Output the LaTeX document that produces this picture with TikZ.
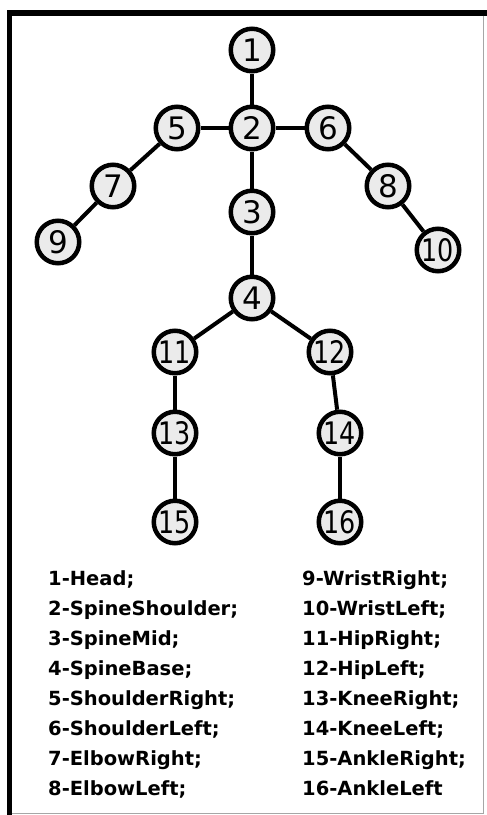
\documentclass[tikz,border=0pt]{standalone}
\usepackage{fontspec}
\newfontfamily\numfont{DejaVu Sans}
\newfontfamily\legfont{DejaVu Sans}
\begin{document}
\begin{tikzpicture}[x=1pt,y=-1pt,
  joint/.style={circle,draw=black,line width=4.5pt,fill=black!8,minimum size=42.5pt,inner sep=0pt,
    font=\numfont\fontsize{31}{31}\selectfont},
  bone/.style={draw=black,line width=4pt},
  legend/.style={anchor=base west,inner sep=0pt,font=\legfont\bfseries\fontsize{19.5}{19.5}\selectfont}]
\useasboundingbox[fill=white] (0,0) rectangle (487,815);
% frame
\fill[black] (7,10) rectangle (12,815);
\fill[black] (7,10) rectangle (487,15.5);
\draw[black!35,line width=1pt] (483,15.5) -- (483,813) -- (12,813);
% joints
\node[joint] (n1) at (252,50) {1};
\node[joint] (n2) at (252,128) {2};
\node[joint] (n3) at (252,212) {3};
\node[joint] (n4) at (252,298) {4};
\node[joint] (n5) at (177,128) {5};
\node[joint] (n6) at (328,128) {6};
\node[joint] (n7) at (113,186) {7};
\node[joint] (n8) at (388,186) {8};
\node[joint] (n9) at (58,242) {9};
\node[joint] (n10) at (438,250) {\scalebox{0.82}[1]{10}};
\node[joint] (n11) at (175,352) {\scalebox{0.82}[1]{11}};
\node[joint] (n12) at (330,352) {\scalebox{0.82}[1]{12}};
\node[joint] (n13) at (175,433) {\scalebox{0.82}[1]{13}};
\node[joint] (n14) at (340,433) {\scalebox{0.82}[1]{14}};
\node[joint] (n15) at (175,522) {\scalebox{0.82}[1]{15}};
\node[joint] (n16) at (340,522) {\scalebox{0.82}[1]{16}};
% bones
\foreach \a/\b in {n1/n2,n2/n5,n2/n6,n5/n7,n7/n9,n6/n8,n8/n10,n2/n3,n3/n4,n4/n11,n4/n12,n11/n13,n13/n15,n12/n14,n14/n16}
  \draw[bone] (\a) -- (\b);
% legend
\node[legend] (l1) at (48,585) {1-Head;};
\node[legend] (l2) at (48,615) {2-SpineShoulder;};
\node[legend] (l3) at (48,645) {3-SpineMid;};
\node[legend] (l4) at (48,675) {4-SpineBase;};
\node[legend] (l5) at (48,705) {5-ShoulderRight;};
\node[legend] (l6) at (48,735) {6-ShoulderLeft;};
\node[legend] (l7) at (48,765) {7-ElbowRight;};
\node[legend] (l8) at (48,795) {8-ElbowLeft;};
\node[legend] (l9) at (302,585) {9-WristRight;};
\node[legend] (l10) at (302,615) {10-WristLeft;};
\node[legend] (l11) at (302,645) {11-HipRight;};
\node[legend] (l12) at (302,675) {12-HipLeft;};
\node[legend] (l13) at (302,705) {13-KneeRight;};
\node[legend] (l14) at (302,735) {14-KneeLeft;};
\node[legend] (l15) at (302,765) {15-AnkleRight;};
\node[legend] (l16) at (302,795) {16-AnkleLeft};
\end{tikzpicture}
\end{document}
